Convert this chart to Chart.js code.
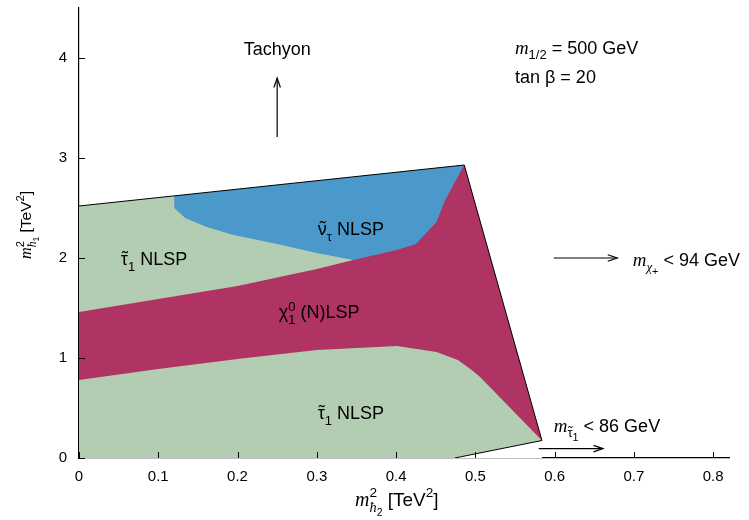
<!DOCTYPE html>
<html><head><meta charset="utf-8">
<script src="https://cdn.jsdelivr.net/npm/chart.js@4/dist/chart.umd.min.js"></script>
<style>html,body{margin:0;padding:0;background:#fff}</style>
</head><body>
<canvas id="c" width="749" height="520"></canvas>
<script>
// ---- data (TeV^2) ----
const xTicks = [0, 0.1, 0.2, 0.3, 0.4, 0.5, 0.6, 0.7, 0.8];
const yTicks = [0, 1, 2, 3, 4];
const outerBoundary = [[0, 2.52], [0.486, 2.93], [0.584, 0.175]];
const bottomEdge = [[0.474, 0], [0.584, 0.175]];
const sneutrinoTop = [[0.12, 2.621], [0.486, 2.93]];
const sneutrinoStauBoundary = [[0.10, 2.50], [0.12, 2.50], [0.134, 2.40], [0.161, 2.31], [0.195, 2.23], [0.25, 2.14], [0.30, 2.05], [0.346, 1.98], [0.36, 1.95]];
const neutralinoTop = [[0, 1.46], [0.1, 1.59], [0.2, 1.72], [0.30, 1.89], [0.346, 1.98], [0.401, 2.08], [0.425, 2.14], [0.451, 2.36], [0.462, 2.58], [0.486, 2.93], [0.584, 0.175]];
const neutralinoBottom = [[0, 0.78], [0.1, 0.89], [0.2, 0.99], [0.30, 1.08], [0.401, 1.12], [0.451, 1.06], [0.478, 0.98], [0.497, 0.87], [0.506, 0.81], [0.584, 0.175]];

const GREEN = '#b3cdb3', BLUE = '#4b98ca', MAGENTA = '#b03463';
const SANS = '"Liberation Sans", Arial, Helvetica, sans-serif';
const SERIF = '"Liberation Serif", "Times New Roman", serif';

const pts = a => a.map(p => ({x: p[0], y: p[1]}));
const layers = [
  {data: outerBoundary, color: GREEN},
  {data: sneutrinoTop, color: BLUE},
  {data: sneutrinoStauBoundary, color: GREEN},
  {data: neutralinoTop, color: MAGENTA},
  {data: neutralinoBottom, color: GREEN},
  {data: bottomEdge, color: '#ffffff'}
];
const datasets = layers.map((l, i) => ({
  data: pts(l.data), fill: 'origin', backgroundColor: l.color,
  borderColor: 'rgba(0,0,0,0)', borderWidth: 0, pointRadius: 0, tension: 0,
  order: 100 - i
}));
datasets.push({
  data: pts(outerBoundary.concat([bottomEdge[0]])), fill: false,
  borderColor: '#000', borderWidth: 1, pointRadius: 0, tension: 0, order: 0
});

// ---- annotations ----
const sub = (t, k, dy, extra) => Object.assign({t, k: k || 0.72, dy: dy == null ? 0.3 : dy}, extra || {});
const labels = [
  {at: [0.25, 4.03], size: 18, align: 'center', parts: [{t: 'Tachyon'}]},
  {at: [0.55, 4.044], size: 18, align: 'left', parts: [{t: 'm', it: 1, serif: 1, k: 1.05}, sub('1/2'), {t: ' = 500 GeV'}]},
  {at: [0.55, 3.747], size: 18, align: 'left', parts: [{t: 'tan β = 20'}]},
  {at: [0.6986, 1.92], size: 18, align: 'left', parts: [{t: 'm', it: 1, serif: 1, k: 1.05}, sub('χ', 0.72, 0.3, {it: 1, serif: 1}), sub('+', 0.6, 0.5), {t: ' < 94 GeV'}]},
  {at: [0.599, 0.26], size: 18, align: 'left', parts: [{t: 'm', it: 1, serif: 1, k: 1.05}, sub('τ', 0.72, 0.3, {tl: 1}), sub('1', 0.6, 0.5), {t: ' < 86 GeV'}]},
  {at: [0.0946, 1.927], size: 18, align: 'center', parts: [{t: 'τ', tl: 1}, sub('1'), {t: ' NLSP'}]},
  {at: [0.343, 2.227], size: 18, align: 'center', parts: [{t: 'ν', tl: 1}, sub('τ'), {t: ' NLSP'}]},
  {at: [0.303, 1.397], size: 18, align: 'center', parts: [{t: 'χ'}, {stack: [[sub('0', 0.72, -0.42)], [sub('1')]]}, {t: ' (N)LSP'}]},
  {at: [0.343, 0.387], size: 18, align: 'center', parts: [{t: 'τ', tl: 1}, sub('1'), {t: ' NLSP'}]}
];
const arrows = [
  {from: [0.25, 3.21], to: [0.25, 3.80]},
  {from: [0.599, 2.0], to: [0.679, 2.0]},
  {from: [0.58, 0.094], to: [0.661, 0.094]}
];
const xTitle = [{t: 'm', it: 1, serif: 1, k: 1.05}, {stack: [[sub('2', 0.72, -0.45)], [sub('ħ', 0.75, 0.3, {it: 1, serif: 1}), sub('2', 0.55, 0.5)]]}, {t: ' [TeV'}, sub('2', 0.72, -0.45), {t: ']'}];
const yTitle = [{t: 'm', it: 1, serif: 1, k: 1.05}, {stack: [[sub('2', 0.72, -0.45)], [sub('ħ', 0.75, 0.3, {it: 1, serif: 1}), sub('1', 0.55, 0.5)]]}, {t: ' [TeV'}, sub('2', 0.72, -0.45), {t: ']'}];

function fontOf(p, base) { return (p.it ? 'italic ' : '') + ((p.k || 1) * base).toFixed(2) + 'px ' + (p.serif ? SERIF : SANS); }
function partWidth(ctx, p, base) {
  if (p.stack) return Math.max(...p.stack.map(s => partsWidth(ctx, s, base)));
  ctx.font = fontOf(p, base); return ctx.measureText(p.t).width;
}
function partsWidth(ctx, parts, base) { return parts.reduce((w, p) => w + partWidth(ctx, p, base), 0); }
function drawSeq(ctx, x, y, parts, base) {
  let cx = x;
  for (const p of parts) {
    if (p.stack) { p.stack.forEach(s => drawSeq(ctx, cx, y, s, base)); cx += partWidth(ctx, p, base); }
    else {
      ctx.font = fontOf(p, base);
      const w = ctx.measureText(p.t).width, yy = y + (p.dy || 0) * base;
      ctx.fillText(p.t, cx, yy);
      if (p.tl) {
        const sz = (p.k || 1) * base;
        const tw = ctx.measureText('\u02DC').width;
        ctx.fillText('\u02DC', cx + w / 2 - tw / 2 + 0.5, yy - 0.1 * sz);
      }
      cx += w;
    }
  }
}
function drawParts(ctx, x, y, parts, base, align) {
  const w = partsWidth(ctx, parts, base);
  const sx = align === 'center' ? x - w / 2 : align === 'right' ? x - w : x;
  ctx.textAlign = 'left'; ctx.textBaseline = 'alphabetic'; ctx.fillStyle = '#000';
  drawSeq(ctx, sx, y, parts, base);
}
function arrow(ctx, x1, y1, x2, y2) {
  ctx.beginPath(); ctx.moveTo(x1, y1); ctx.lineTo(x2, y2); ctx.stroke();
  const ang = Math.atan2(y2 - y1, x2 - x1), L = 10, A = 0.33;
  ctx.beginPath();
  ctx.moveTo(x2 - L * Math.cos(ang - A), y2 - L * Math.sin(ang - A));
  ctx.lineTo(x2, y2);
  ctx.lineTo(x2 - L * Math.cos(ang + A), y2 - L * Math.sin(ang + A));
  ctx.stroke();
}

const deco = {
  id: 'deco',
  afterDraw(chart) {
    const {ctx, chartArea: a, scales: {x, y}} = chart;
    const X = v => x.getPixelForValue(v), Y = v => y.getPixelForValue(v);
    ctx.save();
    ctx.strokeStyle = '#000'; ctx.lineWidth = 1;
    xTicks.forEach(v => { const px = Math.round(X(v)) + 0.5; ctx.beginPath(); ctx.moveTo(px, a.bottom); ctx.lineTo(px, a.bottom - 6); ctx.stroke(); });
    yTicks.forEach(v => { const py = Math.round(Y(v)) + 0.5; ctx.beginPath(); ctx.moveTo(a.left, py); ctx.lineTo(a.left + 6, py); ctx.stroke(); });
    ctx.lineWidth = 1.2;
    arrows.forEach(r => arrow(ctx, X(r.from[0]), Y(r.from[1]), X(r.to[0]), Y(r.to[1])));
    labels.forEach(l => drawParts(ctx, X(l.at[0]), Y(l.at[1]), l.parts, l.size, l.align));
    drawParts(ctx, X(0.401), a.bottom + 48, xTitle, 19, 'center');
    ctx.translate(a.left - 48, Y(2.33)); ctx.rotate(-Math.PI / 2);
    drawParts(ctx, 0, 0, yTitle, 15.5, 'center');
    ctx.restore();
  }
};

const noPad = s => { s.paddingTop = 0; s.paddingBottom = 0; s.paddingLeft = 0; s.paddingRight = 0; };
new Chart(document.getElementById('c'), {
  type: 'line',
  data: {datasets},
  plugins: [deco],
  options: {
    responsive: false, animation: false, devicePixelRatio: 1,
    layout: {padding: {top: 8, right: 20, left: 0, bottom: 0}},
    plugins: {legend: {display: false}, tooltip: {enabled: false}},
    scales: {
      x: {
        type: 'linear', min: 0, max: 0.82, z: 1,
        afterBuildTicks: s => { s.ticks = xTicks.map(v => ({value: v})); },
        afterFit: s => { s.height = 62; noPad(s); },
        grid: {display: false, drawTicks: false},
        border: {display: true, color: '#000', width: 1.2},
        ticks: {padding: 10, color: '#000', font: {family: SANS, size: 15}, maxRotation: 0, autoSkip: false, callback: v => String(v)}
      },
      y: {
        type: 'linear', min: 0, max: 4.5, z: 1,
        afterBuildTicks: s => { s.ticks = yTicks.map(v => ({value: v})); },
        afterFit: s => { s.width = 79; noPad(s); },
        grid: {display: false, drawTicks: false},
        border: {display: true, color: '#000', width: 1.2},
        ticks: {padding: 12, color: '#000', font: {family: SANS, size: 15}, autoSkip: false, callback: v => String(v)}
      }
    }
  }
});
</script>
</body></html>
